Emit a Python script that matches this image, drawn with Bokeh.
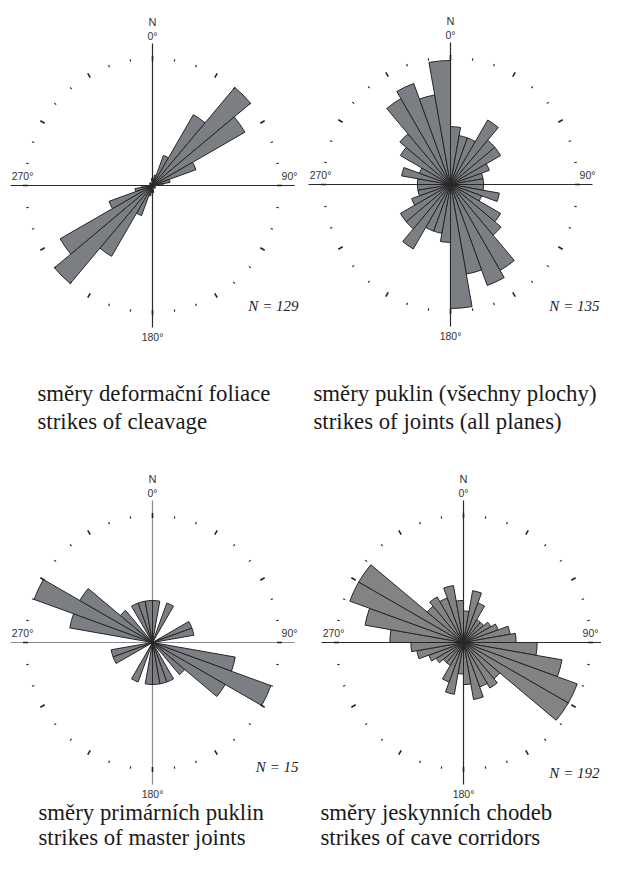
import numpy as np
from bokeh.plotting import figure
from bokeh.models import Range1d
from bokeh.embed import file_html
from bokeh.resources import INLINE
from bokeh.core.properties import value

# ---- data: counts per 10-degree strike bin (0-180), mirrored by 180 degrees ----
bin_starts = list(range(0, 180, 10))
bin_width = 10
cleavage = [2, 3, 9, 23, 36, 30, 13, 5, 3, 1, 0, 0, 1, 0, 1, 0, 0, 2]
joints_all = [7, 6, 6, 9, 7, 7, 5, 4, 4, 4, 6, 4, 7, 8, 12, 13, 11, 15]
master_joints = [1, 0, 1, 0, 0, 0, 1, 1, 0, 0, 2, 3, 2, 1, 0, 1, 1, 1]
corridors = [6, 10, 8, 5, 5, 6, 7, 9, 10, 14, 19, 23, 23, 9, 10, 9, 11, 8]

n_labels = ["N = 129", "N = 135", "N = 15", "N = 192"]
captions_cz = ["směry deformační foliace", "směry puklin (všechny plochy)",
               "směry primárních puklin", "směry jeskynních chodeb"]
captions_en = ["strikes of cleavage", "strikes of joints (all planes)",
               "strikes of master joints", "strikes of cave corridors"]
north_label = "N"
cardinal_labels = ["0°", "90°", "180°", "270°"]

W, H = 601, 854
p = figure(width=W, height=H, x_range=Range1d(0, W), y_range=Range1d(870 - H, 870),
           output_backend="svg", toolbar_location=None, min_border=0)
p.axis.visible = False
p.grid.visible = False
p.outline_line_color = None
p.background_fill_color = "white"
p.border_fill_color = "white"


def Y(ref_y):
    return 870 - ref_y


panels = [
    dict(data=cleavage, cx=152, cy=185, rmax=128, fill="#7b7f84", axis="#2a2a2a",
         nx=298, ny=305, capx=37, capy=393, gap=28, e90=137),
    dict(data=joints_all, cx=450, cy=184, rmax=124, fill="#7b7f84", axis="#2a2a2a",
         nx=599, ny=305, capx=313, capy=393, gap=28, e90=137),
    dict(data=master_joints, cx=152, cy=642, rmax=126, fill="#7b7f84", axis="#8a8a8a",
         nx=298, ny=766, capx=38, capy=812, gap=25, e90=137),
    dict(data=corridors, cx=463, cy=642, rmax=121, fill="#838383", axis="#2a2a2a",
         nx=599, ny=772, capx=320, capy=812, gap=25, e90=127),
]

R = 127
AX = 142
sans = value("Liberation Sans")
serif = value("Liberation Serif")

for i, pn in enumerate(panels):
    cx, cy = pn["cx"], pn["cy"]
    # axis lines
    p.segment(x0=[cx - AX, cx], y0=[Y(cy), Y(cy - AX)], x1=[cx + AX, cx], y1=[Y(cy), Y(cy + AX)],
              line_color=pn["axis"], line_width=1.2)
    # petals
    counts = np.array(pn["data"], dtype=float)
    mx = counts.max()
    starts, ends, radii = [], [], []
    for b, c in zip(bin_starts, counts):
        if c <= 0:
            continue
        for off in (0, 180):
            b0 = b + off
            starts.append(np.radians(90 - (b0 + bin_width)))
            ends.append(np.radians(90 - b0))
            radii.append(c / mx * pn["rmax"])
    p.wedge(x=[cx] * len(radii), y=[Y(cy)] * len(radii), radius=radii,
            start_angle=starts, end_angle=ends,
            fill_color=pn["fill"], line_color="#262626", line_width=1)
    # ticks every 10 degrees, larger every 30
    tx0, ty0, tx1, ty1, tw = [], [], [], [], []
    for a in range(0, 360, 10):
        big = a % 30 == 0
        r0, r1 = (R - 2.5, R + 2.5) if big else (R - 1.2, R + 1.2)
        th = np.radians(a)
        tx0.append(cx + r0 * np.sin(th)); ty0.append(Y(cy - r0 * np.cos(th)))
        tx1.append(cx + r1 * np.sin(th)); ty1.append(Y(cy - r1 * np.cos(th)))
        tw.append(1.6 if big else 1.1)
    p.segment(x0=tx0, y0=ty0, x1=tx1, y1=ty1, line_color="#222222", line_width=tw)
    # labels
    p.text(x=[cx], y=[Y(cy - 164)], text=[north_label], text_font=sans, text_font_size="11px",
           text_align="center", text_baseline="middle", text_color="#333333")
    p.text(x=[cx, cx + pn["e90"], cx, cx - 130], y=[Y(cy - 150), Y(cy - 10), Y(cy + 151), Y(cy - 10)],
           text=cardinal_labels, text_font=sans, text_font_size="10.5px",
           text_align="center", text_baseline="middle", text_color="#333333")
    p.text(x=[pn["nx"]], y=[Y(pn["ny"])], text=[n_labels[i]], text_font=serif,
           text_font_style="italic", text_font_size="15px", text_align="right",
           text_baseline="middle", text_color="#222222")
    p.text(x=[pn["capx"], pn["capx"]], y=[Y(pn["capy"]), Y(pn["capy"] + pn["gap"])],
           text=[captions_cz[i], captions_en[i]], text_font=serif, text_font_size="22.8px",
           text_align="left", text_baseline="alphabetic", text_color="#1a1a1a")

open("out.html", "w").write(file_html(p, INLINE))
